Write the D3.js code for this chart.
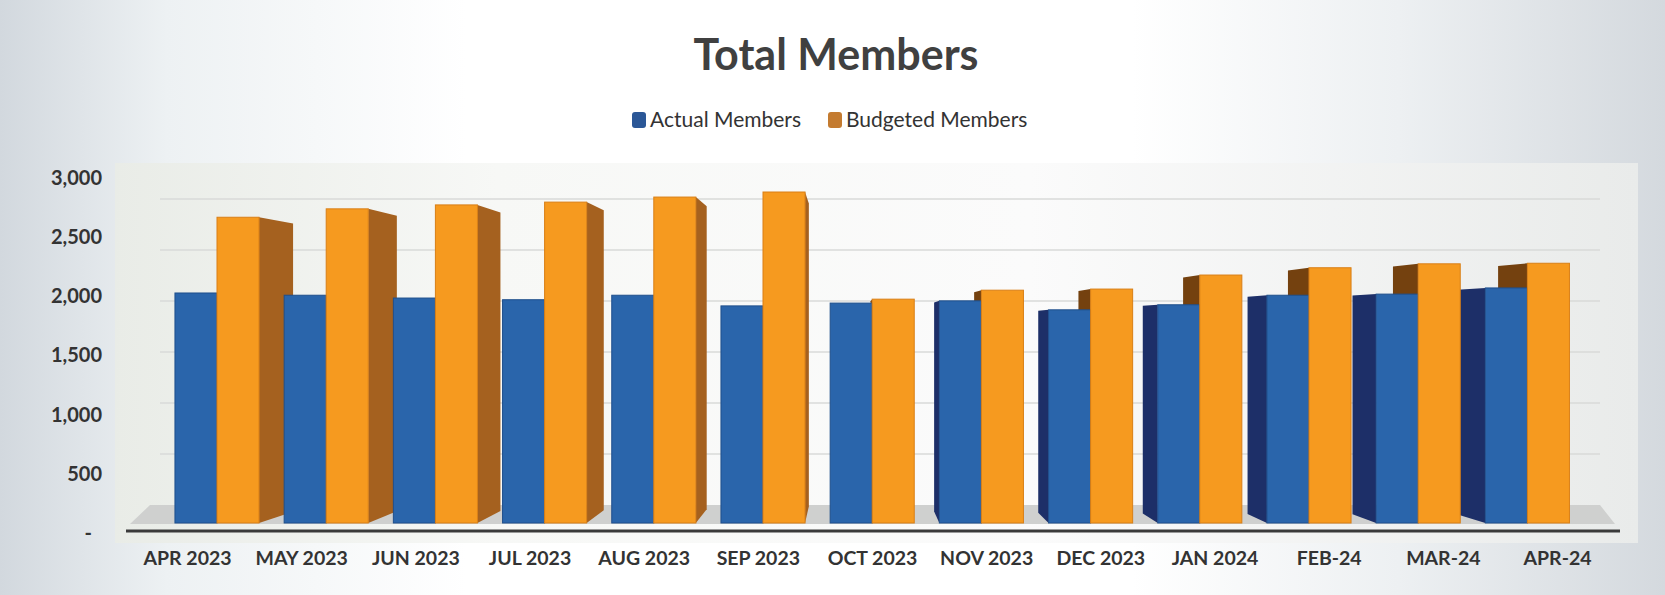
<!DOCTYPE html>
<html>
<head>
<meta charset="utf-8">
<script src="https://cdn.jsdelivr.net/npm/d3@7"></script>
<style>
  body { margin: 0; background: #fff; }
  svg { display: block; font-family: Lato, "Open Sans", sans-serif; }
</style>
</head>
<body>
<svg id="chart" width="1665" height="595"></svg>
<script>
// values
var months = ["APR 2023", "MAY 2023", "JUN 2023", "JUL 2023", "AUG 2023", "SEP 2023", "OCT 2023",
              "NOV 2023", "DEC 2023", "JAN 2024", "FEB-24", "MAR-24", "APR-24"];
var actualMembers = [2050, 2030, 2005, 1990, 2030, 1935, 1960, 1980, 1900, 1945, 2030, 2040, 2095];
var budgetedMembers = [2725, 2800, 2835, 2860, 2905, 2950, 1995, 2075, 2085, 2210, 2275, 2310, 2315];
var seriesNames = ["Actual Members", "Budgeted Members"];
var yTicks = [0, 500, 1000, 1500, 2000, 2500, 3000];

var W = 1665, H = 595;
var svg = d3.select("#chart");
var defs = svg.append("defs");

// page background: scanned look, grey at the sides
var bg = defs.append("linearGradient").attr("id", "bg");
[[0, "#d2d8de"], [0.1, "#edf1f3"], [0.28, "#ffffff"], [0.68, "#ffffff"], [0.84, "#edf0f2"], [1, "#d4d9de"]]
    .forEach(function (s) { bg.append("stop").attr("offset", s[0]).attr("stop-color", s[1]); });
var pa = defs.append("linearGradient").attr("id", "pa");
[[0, "#e9ece7"], [0.25, "#f7f8f6"], [0.6, "#fbfbfb"], [1, "#e9ebea"]]
    .forEach(function (s) { pa.append("stop").attr("offset", s[0]).attr("stop-color", s[1]); });

svg.append("rect").attr("width", W).attr("height", H).attr("fill", "url(#bg)");
svg.append("rect").attr("x", 115).attr("y", 163).attr("width", 1523).attr("height", 380).attr("fill", "url(#pa)");

// scales: label plane, bar front plane, back wall
var labelY = d3.scaleLinear().domain([0, 3000]).range([533, 178]);
var frontY = d3.scaleLinear().domain([0, 3000]).range([523, 186.4]);
var wallY = d3.scaleLinear().domain([0, 3000]).range([505, 199]);

var x = d3.scaleBand().domain(months).range([162.4, 1582]).paddingInner(0.23).paddingOuter(0.115);
var xs = d3.scaleBand().domain(seriesNames).range([0, x.bandwidth()]);
var labelX = d3.scalePoint().domain(months).range([187, 1557]);

// rough perspective: depth shift grows with distance from the centre
var vx = 850, vy = 327;
function depthShift(px) {
    var d = Math.abs(px - vx);
    return (px < vx ? 0.15 : 0.115) * Math.pow(d, 0.85);
}
function proj(px, py) {
    var d = px - vx;
    if (Math.abs(d) < 1) return [px, py];
    var f = depthShift(px) / Math.abs(d);
    return [px - d * f, py - (py - vy) * f];
}

// floor
svg.append("polygon")
    .attr("points", [[130, 524], [1615, 524], [1600, 505], [150, 505]].join(" "))
    .attr("fill", "#cfd0cf");

// wall gridlines
svg.append("g").selectAll("line")
    .data(yTicks.slice(1))
    .join("line")
    .attr("x1", 160).attr("x2", 1600)
    .attr("y1", function (d) { return wallY(d); })
    .attr("y2", function (d) { return wallY(d); })
    .attr("stroke", "#d8dad8").attr("stroke-width", 1.5);

var bars = [];
months.forEach(function (m, i) {
    [actualMembers[i], budgetedMembers[i]].forEach(function (v, j) {
        var x0 = x(m) + xs(seriesNames[j]);
        bars.push({ x0: x0, x1: x0 + xs.bandwidth(), top: frontY(v), bot: frontY(0), s: j });
    });
});

var frontCol = ["#2a65ab", "#f69a1f"];
var edgeCol = ["#1f4f8c", "#d97f16"];
var sideR = ["#1f3a7a", "#a5611f"];
var sideL = ["#1d2f68", "#74410f"];

// side faces first
svg.append("g").selectAll("polygon")
    .data(bars.filter(function (b) { return b.x1 <= vx || b.x0 >= vx; }))
    .join("polygon")
    .attr("points", function (b) {
        var ex = b.x1 <= vx ? b.x1 : b.x0;
        return [[ex, b.top], proj(ex, b.top), proj(ex, b.bot), [ex, b.bot]].join(" ");
    })
    .attr("fill", function (b) { return b.x1 <= vx ? sideR[b.s] : sideL[b.s]; });

// front faces
svg.append("g").selectAll("rect")
    .data(bars)
    .join("rect")
    .attr("x", function (b) { return b.x0; })
    .attr("y", function (b) { return b.top; })
    .attr("width", function (b) { return b.x1 - b.x0; })
    .attr("height", function (b) { return b.bot - b.top; })
    .attr("fill", function (b) { return frontCol[b.s]; })
    .attr("stroke", function (b) { return edgeCol[b.s]; })
    .attr("stroke-width", 1);

// category axis line
svg.append("line").attr("x1", 126).attr("x2", 1620).attr("y1", 531).attr("y2", 531)
    .attr("stroke", "#3a3a3a").attr("stroke-width", 3);

// axes
var yAxis = svg.append("g").attr("transform", "translate(102,0)")
    .call(d3.axisLeft(labelY).tickValues(yTicks).tickSize(0).tickPadding(0)
        .tickFormat(function (d) { return d === 0 ? "-" : d3.format(",")(d); }));
yAxis.select(".domain").remove();
yAxis.selectAll("text").attr("font-size", 20).attr("font-weight", 700).attr("fill", "#333")
    .attr("font-family", "Lato, sans-serif")
    .attr("dx", function (d) { return d === 0 ? -10 : 0; });

var xAxis = svg.append("g").attr("transform", "translate(0,551)")
    .call(d3.axisBottom(labelX).tickSize(0).tickPadding(0));
xAxis.select(".domain").remove();
xAxis.selectAll("text").attr("font-size", 19.5).attr("font-weight", 700).attr("fill", "#333")
    .attr("font-family", "Lato, sans-serif");

// title
svg.append("text").attr("x", 836).attr("y", 70).attr("text-anchor", "middle")
    .attr("font-size", 43).attr("font-weight", 700).attr("fill", "#404040")
    .text("Total Members");

// legend
var legend = [{ name: seriesNames[0], x: 632, col: "#2b5797" }, { name: seriesNames[1], x: 828, col: "#c47b30" }];
var lg = svg.append("g").selectAll("g").data(legend).join("g")
    .attr("transform", function (d) { return "translate(" + d.x + ",112)"; });
lg.append("rect").attr("width", 14).attr("height", 16).attr("rx", 3).attr("fill", function (d) { return d.col; });
lg.append("text").attr("x", 18).attr("y", 8).attr("dy", "0.35em")
    .attr("font-size", 21).attr("fill", "#333")
    .text(function (d) { return d.name; });
</script>
</body>
</html>
